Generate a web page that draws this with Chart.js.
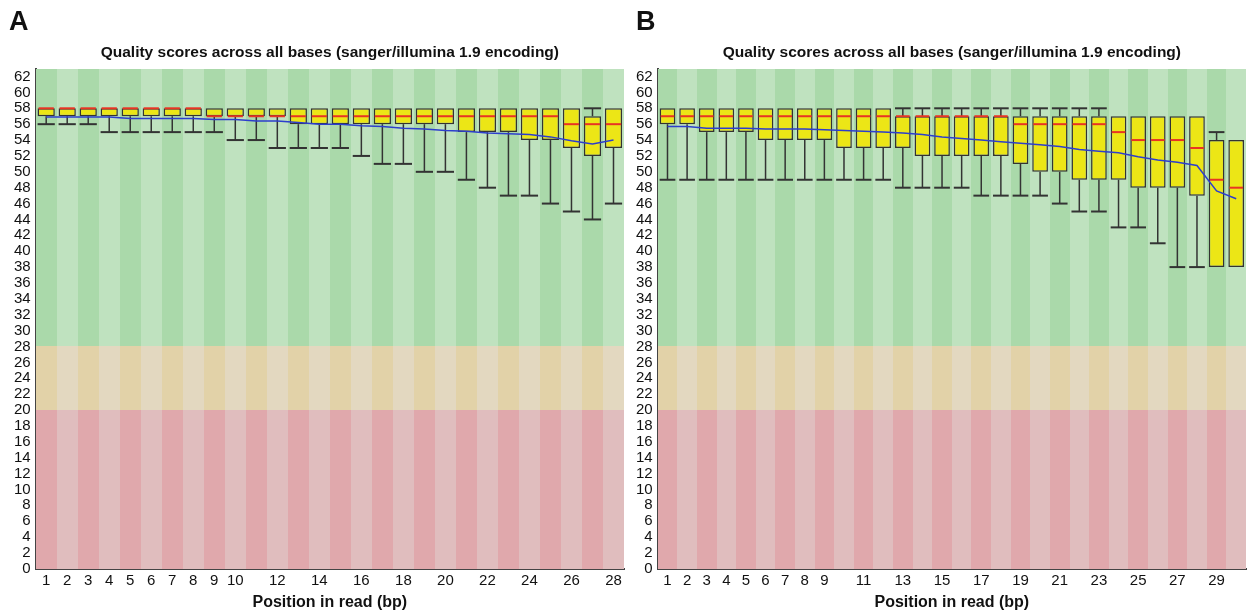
<!DOCTYPE html>
<html>
<head>
<meta charset="utf-8">
<script src="https://cdn.jsdelivr.net/npm/chart.js@4"></script>
<style>
  body { margin: 0; background: #fff; width: 1247px; height: 613px; position: relative; overflow: hidden; font-family: "Liberation Sans", Arial, sans-serif; }
  .panel { position: absolute; top: 0; height: 613px; }
  .tag { position: absolute; top: 8px; font-weight: bold; font-size: 27px; line-height: 1; color: #111; }
</style>
</head>
<body>
<div class="panel" style="left:0;width:630px"><canvas id="chartA" width="630" height="613"></canvas></div>
<div class="panel" style="left:630px;width:617px"><canvas id="chartB" width="617" height="613"></canvas></div>
<div class="tag" style="left:9px">A</div>
<div class="tag" style="left:636px">B</div>
<script>
// panel A: 28 positions
const aPositions = ["1","2","3","4","5","6","7","8","9","10","11","12","13","14","15","16","17","18","19","20","21","22","23","24","25","26","27","28"];
const aTickLabels = ["1","2","3","4","5","6","7","8","9","10","12","14","16","18","20","22","24","26","28"];
const aLow    = [56,56,56,55,55,55,55,55,55,54,54,53,53,53,53,52,51,51,50,50,49,48,47,47,46,45,44,46];
const aQ1     = [57,57,57,57,57,57,57,57,57,57,57,57,56,56,56,56,56,56,56,56,55,55,55,54,54,53,52,53];
const aMedian = [58,58,58,58,58,58,58,58,57,57,57,57,57,57,57,57,57,57,57,57,57,57,57,57,57,56,56,56];
const aQ3     = [58,58,58,58,58,58,58,58,58,58,58,58,58,58,58,58,58,58,58,58,58,58,58,58,58,58,57,58];
const aHigh   = [58,58,58,58,58,58,58,58,58,58,58,58,58,58,58,58,58,58,58,58,58,58,58,58,58,58,58,58];
const aMean   = [56.9,56.9,56.9,56.9,56.7,56.7,56.7,56.7,56.6,56.6,56.4,56.4,56.2,56.0,56.0,55.8,55.7,55.5,55.4,55.2,55.1,54.9,54.8,54.7,54.4,53.9,53.5,54.0];

// panel B: 30 positions
const bPositions = ["1","2","3","4","5","6","7","8","9","10","11","12","13","14","15","16","17","18","19","20","21","22","23","24","25","26","27","28","29","30"];
const bTickLabels = ["1","2","3","4","5","6","7","8","9","11","13","15","17","19","21","23","25","27","29"];
const bLow    = [49,49,49,49,49,49,49,49,49,49,49,49,48,48,48,48,47,47,47,47,46,45,45,43,43,41,38,38,38,38];
const bQ1     = [56,56,55,55,55,54,54,54,54,53,53,53,53,52,52,52,52,52,51,50,50,49,49,49,48,48,48,47,38,38];
const bMedian = [57,57,57,57,57,57,57,57,57,57,57,57,57,57,57,57,57,57,56,56,56,56,56,55,54,54,54,53,49,48];
const bQ3     = [58,58,58,58,58,58,58,58,58,58,58,58,57,57,57,57,57,57,57,57,57,57,57,57,57,57,57,57,54,54];
const bHigh   = [58,58,58,58,58,58,58,58,58,58,58,58,58,58,58,58,58,58,58,58,58,58,58,57,57,57,57,57,55,54];
const bMean   = [55.7,55.7,55.5,55.5,55.5,55.4,55.4,55.4,55.3,55.2,55.1,55.0,54.9,54.7,54.4,54.2,54.0,53.8,53.6,53.4,53.2,52.8,52.6,52.4,51.9,51.5,51.2,50.8,47.6,46.6];

// quality bands (score ranges)
const bandLimits = [[28, 63], [20, 28], [0, 20]];
const bandDark  = ["rgb(170,217,170)", "rgb(226,210,168)", "rgb(224,168,172)"];
const bandLight = ["rgb(191,226,191)", "rgb(227,216,192)", "rgb(224,189,190)"];

Chart.defaults.font.family = "'Liberation Sans', Arial, sans-serif";
Chart.defaults.color = "#111";

// striped green/orange/red background, one stripe per position
const qualityBands = {
  id: "qualityBands",
  beforeDatasetsDraw(chart) {
    const { ctx, scales: { x, y } } = chart;
    const n = chart.data.labels.length;
    const w = x.width / n;
    ctx.save();
    for (let i = 0; i < n; i++) {
      const left = Math.round(x.getPixelForValue(i) - w / 2);
      const right = Math.round(x.getPixelForValue(i) + w / 2);
      bandLimits.forEach((b, k) => {
        const top = Math.round(y.getPixelForValue(b[1]));
        const bottom = Math.round(y.getPixelForValue(b[0]));
        ctx.fillStyle = i % 2 === 0 ? bandDark[k] : bandLight[k];
        ctx.fillRect(left, top, right - left, bottom - top);
      });
    }
    ctx.restore();
  }
};

// whiskers and medians drawn over the yellow boxes
const whiskers = {
  id: "whiskers",
  afterDatasetDraw(chart, args, s) {
    if (args.index !== 0 || !s.low) return;
    const { ctx, scales: { y } } = chart;
    const boxes = chart.getDatasetMeta(0).data;
    ctx.save();
    boxes.forEach((bar, i) => {
      const half = bar.width / 2;
      const x0 = bar.x - half, x1 = bar.x + half;
      const yLow = y.getPixelForValue(s.low[i]);
      const yQ1 = y.getPixelForValue(s.q1[i]);
      const yQ3 = y.getPixelForValue(s.q3[i]);
      const yHigh = y.getPixelForValue(s.high[i]);
      ctx.strokeStyle = "#333";
      if (s.low[i] < s.q1[i]) {
        ctx.lineWidth = 1.5;
        ctx.beginPath(); ctx.moveTo(bar.x, yQ1); ctx.lineTo(bar.x, yLow); ctx.stroke();
        ctx.lineWidth = 2;
        ctx.beginPath(); ctx.moveTo(x0, yLow); ctx.lineTo(x1, yLow); ctx.stroke();
      }
      if (s.high[i] > s.q3[i]) {
        ctx.lineWidth = 1.5;
        ctx.beginPath(); ctx.moveTo(bar.x, yQ3); ctx.lineTo(bar.x, yHigh); ctx.stroke();
        ctx.lineWidth = 2;
        ctx.beginPath(); ctx.moveTo(x0, yHigh); ctx.lineTo(x1, yHigh); ctx.stroke();
      }
      const yMed = y.getPixelForValue(s.median[i]);
      ctx.strokeStyle = "rgb(232,52,36)";
      ctx.lineWidth = 2;
      ctx.beginPath(); ctx.moveTo(x0 + 1, yMed); ctx.lineTo(x1 - 1, yMed); ctx.stroke();
    });
    ctx.restore();
  }
};

function makeChart(id, labels, ticksShown, low, q1, median, q3, high, mean, pad, barPct) {
  return new Chart(id, {
    type: "bar",
    data: {
      labels: labels,
      datasets: [
        {
          type: "bar",
          data: q1.map((v, i) => [v, q3[i]]),
          backgroundColor: "rgb(236,230,22)",
          borderColor: "#333",
          borderWidth: 1.5,
          borderSkipped: false,
          categoryPercentage: 1,
          barPercentage: barPct,
          order: 2
        },
        {
          type: "line",
          data: mean,
          borderColor: "rgb(45,62,205)",
          borderWidth: 1.5,
          pointRadius: 0,
          tension: 0,
          order: 1
        }
      ]
    },
    options: {
      responsive: false,
      animation: false,
      layout: { padding: pad },
      plugins: {
        legend: { display: false },
        tooltip: { enabled: false },
        whiskers: { low, q1, median, q3, high },
        title: {
          display: true,
          text: "Quality scores across all bases (sanger/illumina 1.9 encoding)",
          font: { size: 15.5, weight: "bold" },
          padding: { top: 43, bottom: 7 },
          fullSize: false
        }
      },
      scales: {
        x: {
          grid: { display: false, drawTicks: false },
          border: { display: true, color: "#444", width: 2 },
          ticks: {
            autoSkip: false,
            maxRotation: 0,
            padding: 3,
            font: { size: 15 },
            callback: (v, i) => ticksShown.includes(labels[i]) ? labels[i] : ""
          },
          title: {
            display: true,
            text: "Position in read (bp)",
            font: { size: 16, weight: "bold" },
            padding: { top: 0, bottom: 0 }
          }
        },
        y: {
          min: 0,
          max: 63,
          grid: { display: false, drawTicks: false },
          border: { display: true, color: "#444", width: 2 },
          ticks: { stepSize: 2, autoSkip: false, includeBounds: false, padding: 5, font: { size: 15 } }
        }
      }
    },
    plugins: [qualityBands, whiskers]
  });
}

makeChart("chartA", aPositions, aTickLabels, aLow, aQ1, aMedian, aQ3, aHigh, aMean,
  { left: 9, right: 6, top: 0, bottom: 1 }, 0.82);
makeChart("chartB", bPositions, bTickLabels, bLow, bQ1, bMedian, bQ3, bHigh, bMean,
  { left: 1, right: 1, top: 0, bottom: 1 }, 0.8);
</script>
</body>
</html>
